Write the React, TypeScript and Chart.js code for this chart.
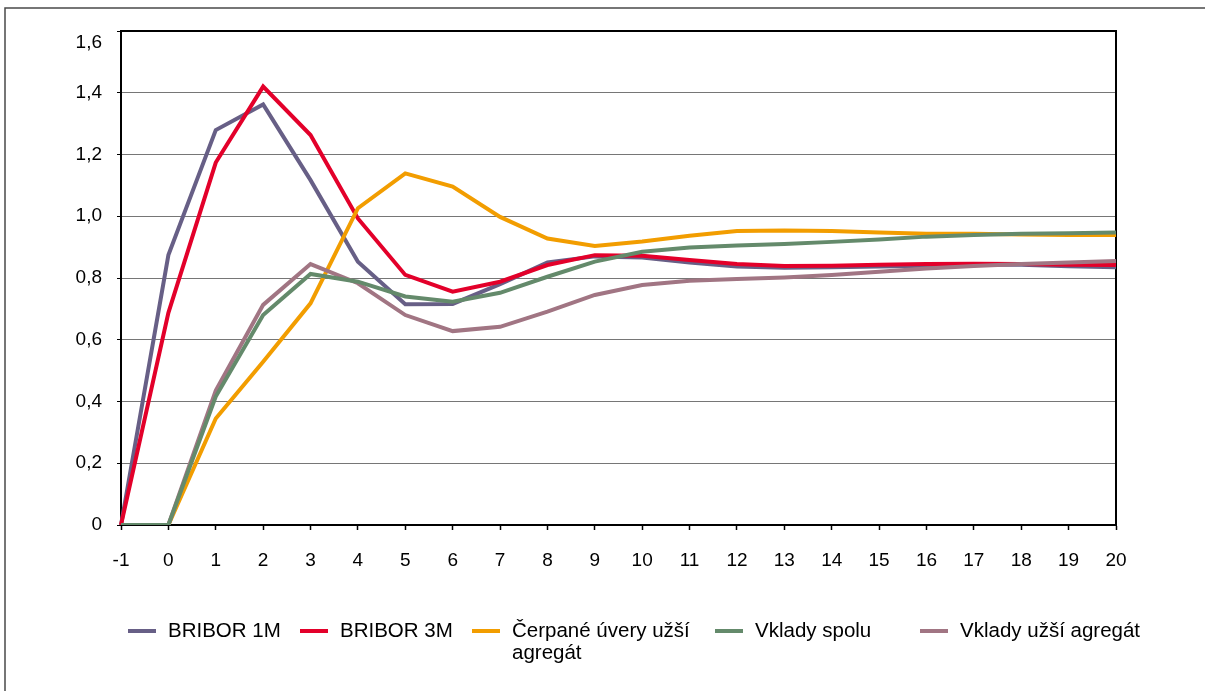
import React, { useEffect, useRef } from 'react';
import { Chart, registerables } from 'chart.js';

Chart.register(...registerables);

const categories = ['-1', '0', '1', '2', '3', '4', '5', '6', '7', '8', '9', '10', '11', '12', '13', '14', '15', '16', '17', '18', '19', '20'];

const seriesNames = ['BRIBOR 1M', 'BRIBOR 3M', 'Čerpané úvery užší agregát', 'Vklady spolu', 'Vklady užší agregát'];

const bribor1M = [0, 0.874, 1.279, 1.362, 1.117, 0.853, 0.715, 0.716, 0.78, 0.85, 0.87, 0.866, 0.85, 0.837, 0.833, 0.835, 0.837, 0.84, 0.843, 0.843, 0.838, 0.835];
const bribor3M = [0, 0.687, 1.174, 1.42, 1.263, 0.993, 0.81, 0.756, 0.788, 0.842, 0.874, 0.872, 0.858, 0.845, 0.839, 0.84, 0.843, 0.845, 0.846, 0.845, 0.843, 0.842];
const cerpaneUvery = [0, 0, 0.345, 0.529, 0.718, 1.026, 1.139, 1.096, 0.998, 0.928, 0.904, 0.918, 0.937, 0.952, 0.954, 0.952, 0.947, 0.943, 0.943, 0.941, 0.939, 0.939];
const vkladySpolu = [0, 0, 0.416, 0.68, 0.813, 0.788, 0.74, 0.723, 0.752, 0.804, 0.853, 0.885, 0.899, 0.905, 0.91, 0.917, 0.925, 0.934, 0.939, 0.943, 0.945, 0.947];
const vkladyUzsi = [0, 0, 0.435, 0.713, 0.845, 0.783, 0.68, 0.628, 0.642, 0.691, 0.745, 0.777, 0.791, 0.797, 0.802, 0.81, 0.82, 0.831, 0.839, 0.845, 0.85, 0.855];

const yMin = 0;
const yMax = 1.6;
const yStep = 0.2;

const colors = ['#675f86', '#e3002a', '#f29d00', '#648a6b', '#a17583'];
const drawOrder = [5, 4, 3, 1, 2];

const FONT = '"Liberation Sans", Arial, Helvetica, sans-serif';

const formatY = (v: number) => (Math.abs(v) < 1e-9 ? '0' : v.toFixed(1).replace('.', ','));

const framePlugin = {
  id: 'frame',
  beforeDraw(chart: any) {
    const ctx = chart.ctx;
    ctx.save();
    ctx.fillStyle = '#ffffff';
    ctx.fillRect(0, 0, chart.width, chart.height);
    ctx.strokeStyle = '#4a4a4a';
    ctx.lineWidth = 1.5;
    ctx.beginPath();
    ctx.moveTo(5, chart.height);
    ctx.lineTo(5, 8);
    ctx.lineTo(chart.width, 8);
    ctx.stroke();
    ctx.restore();
  },
  beforeDatasetsDraw(chart: any) {
    const { ctx, chartArea } = chart;
    ctx.save();
    ctx.strokeStyle = '#000000';
    ctx.lineWidth = 2;
    ctx.strokeRect(chartArea.left, chartArea.top, chartArea.right - chartArea.left, chartArea.bottom - chartArea.top);
    ctx.restore();
  },
};

const legendX = [128, 300, 472, 715, 920];

const legendPlugin = {
  id: 'customLegend',
  afterDraw(chart: any) {
    const ctx = chart.ctx;
    ctx.save();
    ctx.font = '20.5px ' + FONT;
    ctx.textBaseline = 'alphabetic';
    ctx.textAlign = 'left';
    chart.data.datasets.forEach((ds: any, i: number) => {
      const sx = legendX[i];
      ctx.strokeStyle = ds.borderColor;
      ctx.lineWidth = 4;
      ctx.beginPath();
      ctx.moveTo(sx, 631);
      ctx.lineTo(sx + 28, 631);
      ctx.stroke();
      const tx = sx + 40;
      const limit = (i + 1 < legendX.length ? legendX[i + 1] : 1195) - tx - 10;
      const words = String(ds.label).split(' ');
      const lines: string[] = [];
      let cur = '';
      words.forEach((w) => {
        const test = cur ? cur + ' ' + w : w;
        if (cur && ctx.measureText(test).width > limit) {
          lines.push(cur);
          cur = w;
        } else {
          cur = test;
        }
      });
      if (cur) lines.push(cur);
      ctx.fillStyle = '#000000';
      lines.forEach((ln, k) => ctx.fillText(ln, tx, 637 + k * 22));
    });
    ctx.restore();
  },
};

export default function App() {
  const canvasRef = useRef<HTMLCanvasElement | null>(null);

  useEffect(() => {
    const canvas = canvasRef.current;
    if (!canvas) return;
    const seriesData = [bribor1M, bribor3M, cerpaneUvery, vkladySpolu, vkladyUzsi];
    const chart = new Chart(canvas, {
      type: 'line',
      data: {
        labels: categories,
        datasets: seriesData.map((d, i) => ({
          label: seriesNames[i],
          data: d,
          borderColor: colors[i],
          backgroundColor: colors[i],
          borderWidth: 4,
          pointRadius: 0,
          pointHoverRadius: 0,
          tension: 0,
          fill: false,
          order: drawOrder[i],
        })),
      },
      options: {
        animation: false,
        responsive: false,
        devicePixelRatio: 1,
        layout: { padding: { top: 31, right: 89, bottom: 0, left: 0 } },
        plugins: {
          legend: { display: false },
          tooltip: { enabled: false },
        },
        scales: {
          x: {
            type: 'category',
            offset: false,
            grid: {
              display: true,
              drawOnChartArea: false,
              drawTicks: true,
              tickLength: 5,
              tickColor: '#000000',
              tickWidth: 1.5,
            },
            border: { display: true, color: '#000000', width: 2 },
            ticks: {
              autoSkip: false,
              maxRotation: 0,
              minRotation: 0,
              padding: 19,
              color: '#000000',
              font: { family: FONT, size: 19 },
            },
            afterFit: (scale: any) => {
              scale.height = 166;
              scale.paddingLeft = 0;
              scale.paddingRight = 0;
            },
          },
          y: {
            min: yMin,
            max: yMax,
            grid: {
              color: '#767676',
              lineWidth: 1,
              drawTicks: true,
              tickLength: 4,
              tickColor: '#000000',
            },
            border: { display: true, color: '#000000', width: 2 },
            ticks: {
              stepSize: yStep,
              padding: 15,
              color: '#000000',
              font: { family: FONT, size: 19 },
              callback: (value: any) => {
                const v = Number(value);
                if (Math.abs(v - yMax) < 1e-9) return ['', formatY(v)];
                return formatY(v);
              },
            },
            afterFit: (scale: any) => {
              scale.width = 121;
              scale.paddingTop = 0;
              scale.paddingBottom = 0;
            },
          },
        },
      },
      plugins: [framePlugin, legendPlugin],
    });
    return () => chart.destroy();
  }, []);

  return (
    <div style={{ position: 'absolute', left: 0, top: 0, width: 1205, height: 691, background: '#fff' }}>
      <canvas ref={canvasRef} width={1205} height={691} style={{ display: 'block', width: 1205, height: 691 }} />
    </div>
  );
}
